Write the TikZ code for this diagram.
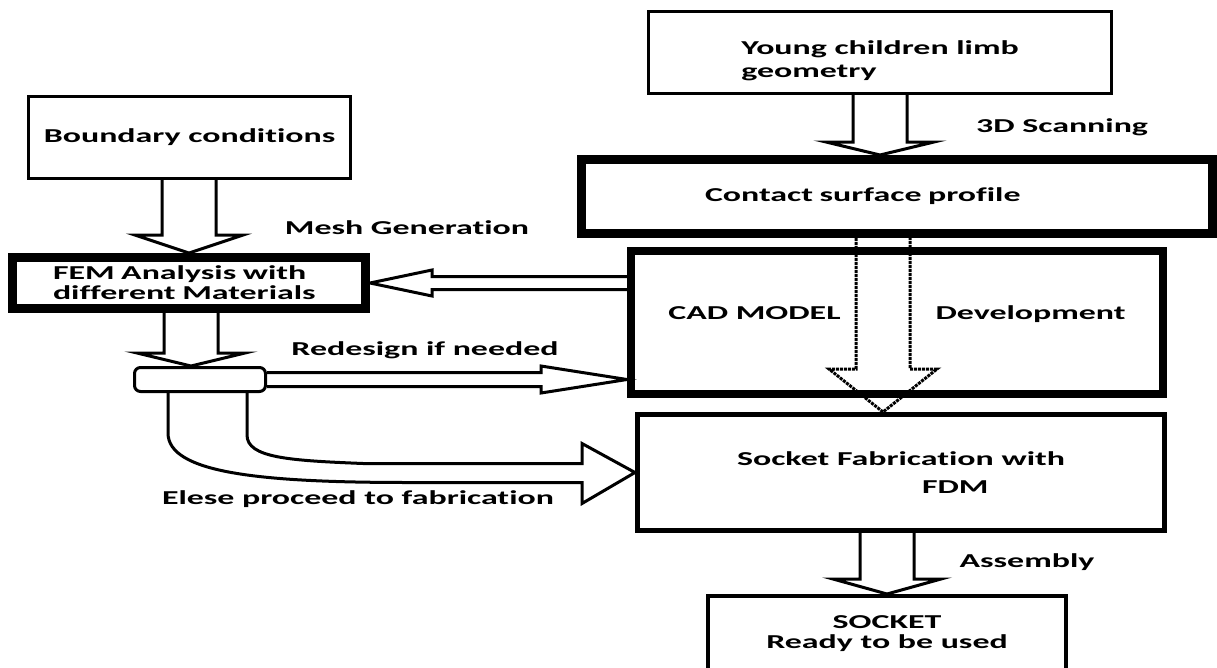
\documentclass[tikz,border=0pt]{standalone}
\usepackage{fontspec}
\newfontfamily\diagfont{Carlito}[FakeStretch=1.72, Ligatures=NoCommon]
\usetikzlibrary{calc}
\tikzset{
  box/.style={draw, line width=3pt, inner sep=0pt},
  heavybox/.style={box, line width=9pt},
  blockarrow/.style={draw, line width=3pt, line join=miter},
  lbl/.style={inner sep=0pt}
}
\newcommand{\vblock}[4][]{%
  \draw[blockarrow,#1] let \p1=(#2), \p2=(#3) in
    (\x2-27pt,\y1) -- (\x2-27pt,\y2+#4pt) -- (\x2-54pt,\y2+#4pt) -- (\x2,\y2)
    -- (\x2+54pt,\y2+#4pt) -- (\x2+27pt,\y2+#4pt) -- (\x2+27pt,\y1);}
\newcommand{\hblock}[5]{%
  \draw[blockarrow] let \p1=(#1), \p2=(#2), \n2={\x2-sign(\x2-\x1)*#5pt} in
    (\x1,\y2+#3pt) -- ({\n2},\y2+#3pt) -- ({\n2},\y2+#4pt) -- (\x2,\y2)
    -- ({\n2},\y2-#4pt) -- ({\n2},\y2-#3pt) -- (\x1,\y2-#3pt);}
\begin{document}
\begin{tikzpicture}[x=1pt,y=-1pt,
  every node/.style={font=\diagfont\bfseries\fontsize{19.7}{22}\selectfont}]
    \useasboundingbox (0,0) rectangle (1217,667);
    \node[box, minimum width=463, minimum height=82, text height=54pt, align=left] (young) at (880,52.5) {Young children limb\\[1pt]geometry};
    \node[box, minimum width=322, minimum height=82] (bc) at (189.5,137.5) {Boundary conditions};
    \node[heavybox, minimum width=631, minimum height=74, text width=384, inner xsep=123, align=left] (contact) at (897,196.5) {Contact surface profile};
    \node[heavybox, line width=8pt, minimum width=532, minimum height=143, text depth=20pt] (cad) at (897,322.5) {CAD MODEL\hspace*{95pt}Development};
    \node[heavybox, minimum width=353, minimum height=51, text width=272, inner xsep=39, align=left] (fem) at (189,283) {FEM Analysis with\\[-2pt]different Materials};
    \node[box, rounded corners=6pt, minimum width=131, minimum height=24] (dec) at (200,379.5) {};
    \node[box, line width=5pt, minimum width=527, minimum height=116, align=left] (fin) at (901,472.5) {Socket Fabrication with\\[6pt]\hspace*{185pt}FDM};
    \node[box, line width=4pt, minimum width=358, anchor=north, inner ysep=20, text depth=70pt, align=center] (sock) at (887,594) {SOCKET\\[-2pt]Ready to be used};
    \node[lbl] (scan) at (1062,127) {3D Scanning};
    \node[lbl] (mesh) at (407,228) {Mesh Generation};
    \node[lbl] (redo) at (425,350) {Redesign if needed};
    \node[lbl] (else) at (358,499) {Elese proceed to fabrication};
    \node[lbl] (asm) at (1027,562) {Assembly};
    \vblock{bc.south}{fem.north}{18}
    \vblock{fem.south}{$(dec.north)+(-9,0)$}{13}
    \vblock{young.south}{young.south |- contact.north}{13}
    \vblock[densely dotted]{contact.south}{$(fin.north)+(-18,0)$}{43}
    \vblock{fin.south}{sock.north}{15}
    \hblock{cad.west |- fem.east}{fem.east}{6.5}{13}{62}
    \hblock{dec.east}{cad.west |- dec.east}{7}{13.5}{86}
    \draw[blockarrow] let \p1=(dec.south), \p2=(fin.west) in
        (\x1-32pt,\y1) -- (\x1-32pt,\y1-40pt)
        .. controls (\x1-32pt,\y1-80pt) and (\x1+60pt,\y2-10pt) .. (\x1+210pt,\y2-10pt)
        -- (\x2-53pt,\y2-10pt) -- (\x2-53pt,\y2-31pt) -- (\x2,\y2)
        -- (\x2-53pt,\y2+29pt) -- (\x2-53pt,\y2+9pt) -- (\x1+163pt,\y2+9pt)
        .. controls (\x1+90pt,\y2+12pt) and (\x1+47pt,\y1-65pt) .. (\x1+47pt,\y1-42pt)
        -- (\x1+47pt,\y1);
\end{tikzpicture}
\end{document}
